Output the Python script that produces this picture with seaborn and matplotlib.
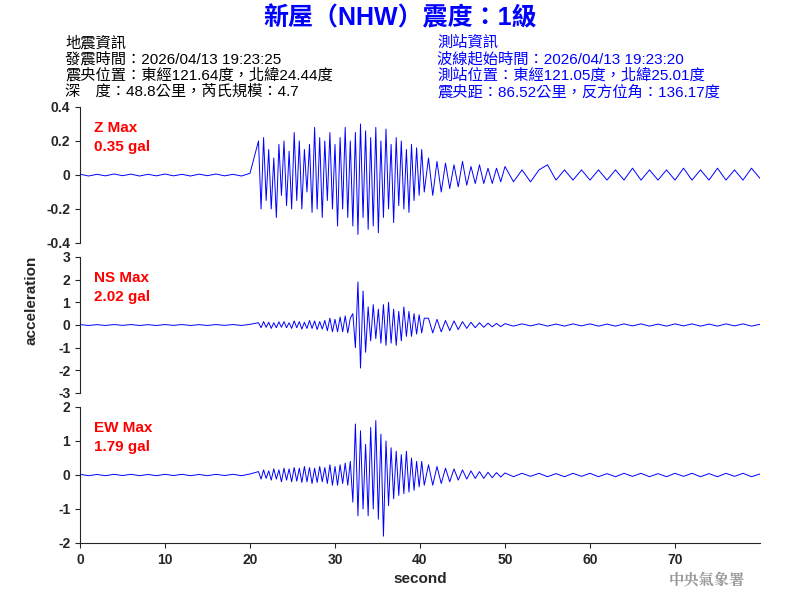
import numpy as np
import pandas as pd
import seaborn as sns
import matplotlib
matplotlib.use("Agg")
import matplotlib.pyplot as plt

sns.set_style("ticks")
plt.rcParams['font.family'] = ['Liberation Sans', 'Noto Sans CJK TC', 'DejaVu Sans']

# sample times (s)
t_quiet = list(range(0, 21))
t_strong = [round(21 + 0.3 * i, 1) for i in range(66)]
t_decay = [41 + 0.5 * i for i in range(19)]
t_tail = list(range(51, 81))
seconds = t_quiet + t_strong + t_decay + t_tail

z_vals = ([0.005,-0.006,0.004,-0.005,0.006,-0.004,0.005,-0.006,0.004,-0.005,0.006,-0.005,0.004,-0.006,0.005,-0.004,0.006,-0.005,0.004,-0.006,0.01]
 + [0.2,-0.2,0.22,-0.15,0.15,-0.2,0.1,-0.25,0.18,-0.12, 0.2,-0.18,0.14,-0.2,0.25,-0.15,0.2,-0.2,0.15,-0.1,
    0.18,-0.22,0.28,-0.2,0.22,-0.25,0.2,-0.15,0.25,-0.2, 0.18,-0.3,0.22,-0.2,0.28,-0.25,0.2,-0.3,0.25,-0.35,
    0.3,-0.25,0.26,-0.32,0.22,-0.3,0.28,-0.34,0.2,-0.25, 0.27,-0.2,0.18,-0.28,0.22,-0.18,0.2,-0.2,0.15,-0.22,
    0.18,-0.15,0.16,-0.12,0.15,-0.1]
 + [0.1,-0.12,0.08,-0.1,0.07,-0.08,0.06,-0.07,0.08,-0.06,0.05,-0.05,0.06,-0.05,0.04,-0.05,0.04,-0.04,0.05]
 + [-0.04,0.03,-0.04,0.03,0.06,-0.03,0.03,-0.03,0.03,-0.03,0.03,-0.03,0.03,-0.03,0.04,-0.03,0.03,-0.03,0.03,-0.03,
    0.04,-0.03,0.03,-0.03,0.04,-0.03,0.03,-0.03,0.04,-0.02])

ns_vals = ([0.02,-0.02,0.015,-0.02,0.02,-0.015,0.02,-0.02,0.015,-0.02,0.02,-0.015,0.02,-0.02,0.015,-0.02,0.02,-0.015,0.02,-0.02,0.03]
 + [0.1,-0.12,0.15,-0.1,0.12,-0.15,0.1,-0.12,0.14,-0.1, 0.15,-0.12,0.1,-0.15,0.18,-0.12,0.15,-0.18,0.12,-0.15,
    0.2,-0.15,0.18,-0.2,0.15,-0.18,0.2,-0.25,0.3,-0.3, 0.25,-0.3,0.35,-0.3,0.4,-0.35,0.3,
    0.5,-1.0,1.9,-1.9,1.5,-1.2,0.8,-0.7,0.9,-0.6, 0.7,-0.8,0.9,-0.9,1.0,-0.8,0.7,-0.9,0.6,-0.7,
    0.8,-0.5,0.6,-0.5,0.5,-0.4,0.45,-0.35,0.3]
 + [0.3,-0.35,0.25,-0.3,0.2,-0.25,0.18,-0.2,0.15,-0.15,0.12,-0.12,0.1,-0.1,0.08,-0.08,0.07,-0.07,0.06]
 + [-0.05,0.05,-0.04,0.05,-0.05,0.04,-0.05,0.05,-0.04,0.05,-0.05,0.04,-0.05,0.05,-0.04,0.05,-0.05,0.04,-0.05,0.05,
    -0.04,0.05,-0.05,0.04,-0.05,0.05,-0.04,0.05,-0.05,0.03])

ew_vals = ([0.02,-0.02,0.015,-0.02,0.02,-0.015,0.02,-0.02,0.015,-0.02,0.02,-0.015,0.02,-0.02,0.015,-0.02,0.02,-0.015,0.02,-0.02,0.03]
 + [0.1,-0.12,0.15,-0.1,0.12,-0.15,0.18,-0.12,0.15,-0.2, 0.2,-0.15,0.18,-0.2,0.22,-0.18,0.2,-0.22,0.25,-0.2,
    0.22,-0.25,0.2,-0.22,0.25,-0.2,0.22,-0.25,0.3,-0.3, 0.25,-0.3,0.3,-0.25,0.35,-0.3,0.4,
    -0.8,1.5,-1.2,1.3,-1.0,0.9,-1.2,1.4,-1.0,1.6, -1.3,1.2,-1.8,1.0,-0.9,0.8,-0.7,0.7,-0.6,0.6,
    -0.55,0.7,-0.5,0.5,-0.45,0.4,-0.35,0.4,-0.3]
 + [0.3,-0.3,0.25,-0.25,0.2,-0.2,0.18,-0.15,0.15,-0.12,0.12,-0.1,0.1,-0.1,0.08,-0.08,0.07,-0.06,0.06]
 + [-0.05,0.05,-0.04,0.05,-0.05,0.04,-0.05,0.05,-0.04,0.05,-0.05,0.04,-0.05,0.05,-0.04,0.05,-0.05,0.04,-0.05,0.05,
    -0.04,0.05,-0.05,0.04,-0.05,0.05,-0.04,0.05,-0.05,0.03])

components = ["Z", "NS", "EW"]
max_labels = ["0.35 gal", "2.02 gal", "1.79 gal"]
ylims = [(-0.4, 0.4), (-3, 3), (-2, 2)]
yticks = [[-0.4, -0.2, 0, 0.2, 0.4], [-3, -2, -1, 0, 1, 2, 3], [-2, -1, 0, 1, 2]]
ytick_labels = [["-0.4", "-0.2", "0", "0.2", "0.4"], ["-3", "-2", "-1", "0", "1", "2", "3"], ["-2", "-1", "0", "1", "2"]]
xticks = [0, 10, 20, 30, 40, 50, 60, 70]

fig = plt.figure(figsize=(8, 6), dpi=100)
bottoms = [1 - 243/600, 1 - 393/600, 1 - 543/600]
for k, (comp, vals) in enumerate(zip(components, [z_vals, ns_vals, ew_vals])):
    ax = fig.add_axes([0.1, bottoms[k], 0.85, 136/600])
    df = pd.DataFrame({"second": seconds, "acc": vals})
    sns.lineplot(data=df, x="second", y="acc", ax=ax, color="#0000ff", linewidth=0.7)
    ax.set_xlim(0, 80)
    ax.set_ylim(*ylims[k])
    ax.set_yticks(yticks[k])
    ax.set_yticklabels(ytick_labels[k], fontweight="bold", fontsize=10)
    ax.set_ylabel("")
    ax.set_xlabel("")
    for s in ["top", "right"]:
        ax.spines[s].set_visible(False)
    if k < 2:
        ax.spines["bottom"].set_visible(False)
        ax.set_xticks([])
    else:
        ax.set_xticks(xticks)
        ax.set_xticklabels([str(v) for v in xticks], fontweight="bold", fontsize=10)
        ax.set_xlabel("second", fontweight="bold", fontsize=11)
    ax.text(0.02, 0.9, f"{comp} Max\n{max_labels[k]}", transform=ax.transAxes,
            color="red", fontweight="bold", fontsize=11, va="top", linespacing=1.5)

fig.text(32/800, 1 - 300/600, "acceleration", rotation=90, ha="center", va="center",
         fontweight="bold", fontsize=11)
fig.text(0.5, 1 - 18/600, "新屋（NHW）震度：1級", ha="center", va="center",
         color="#0000ff", fontweight="bold", fontsize=18)
left_lines = ["地震資訊", "發震時間：2026/04/13 19:23:25", "震央位置：東經121.64度，北緯24.44度", "深　度：48.8公里，芮氏規模：4.7"]
right_lines = ["測站資訊", "波線起始時間：2026/04/13 19:23:20", "測站位置：東經121.05度，北緯25.01度", "震央距：86.52公里，反方位角：136.17度"]
for i, (l, r) in enumerate(zip(left_lines, right_lines)):
    y = 1 - (43 + 16.3 * i) / 600
    fig.text(65/800, y, l, color="black", fontsize=11, fontweight="medium", va="center")
    fig.text(437/800, y, r, color="#0000ff", fontsize=11, fontweight="medium", va="center")
fig.text(745/800, 1 - 580/600, "中央氣象署", ha="right", va="center", color="#999999",
         fontsize=11, fontweight="bold", family=["Noto Serif CJK TC", "Noto Sans CJK TC"])
fig.savefig("out.png", dpi=100)
